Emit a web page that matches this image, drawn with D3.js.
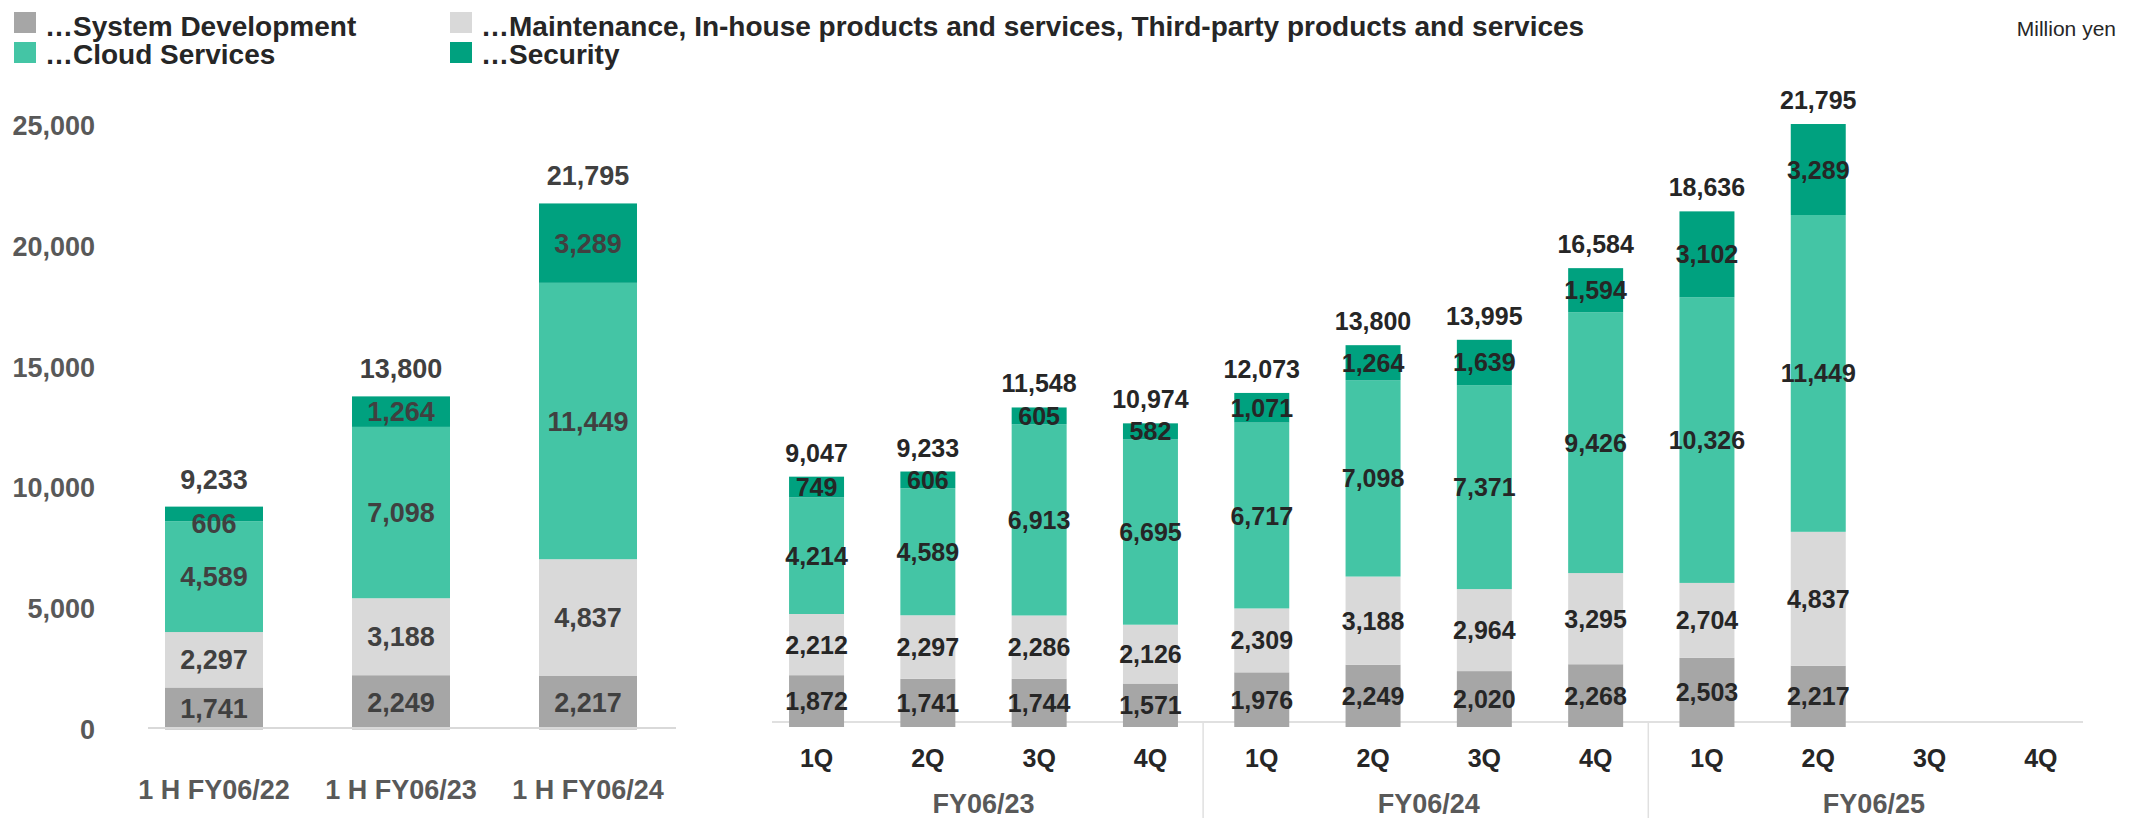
<!DOCTYPE html>
<html><head><meta charset="utf-8">
<script src="https://cdn.jsdelivr.net/npm/d3@7"></script>
<style>
html,body{margin:0;padding:0;background:#fff;}
svg{display:block;font-family:"Liberation Sans",Arial,Helvetica,sans-serif;}
</style></head><body>
<svg id="chart" width="2145" height="818"></svg>
<script>
// ---------- data ----------
const seriesNames = ["…System Development", "…Maintenance, In-house products and services, Third-party products and services", "…Cloud Services", "…Security"];
const seriesKeys = ["sys", "maint", "cloud", "sec"];
const seriesColors = ["#a6a6a6", "#d9d9d9", "#44c5a5", "#00a17f"];

const halfCategories = ["1 H FY06/22", "1 H FY06/23", "1 H FY06/24"];
const halfSysDev   = [1741, 2249, 2217];
const halfMaint    = [2297, 3188, 4837];
const halfCloud    = [4589, 7098, 11449];
const halfSecurity = [606, 1264, 3289];
const halfTotals   = [9233, 13800, 21795];

const fiscalYears = ["FY06/23", "FY06/24", "FY06/25"];
const quarters = ["1Q", "2Q", "3Q", "4Q"];
const qSysDev   = [1872, 1741, 1744, 1571, 1976, 2249, 2020, 2268, 2503, 2217, null, null];
const qMaint    = [2212, 2297, 2286, 2126, 2309, 3188, 2964, 3295, 2704, 4837, null, null];
const qCloud    = [4214, 4589, 6913, 6695, 6717, 7098, 7371, 9426, 10326, 11449, null, null];
const qSecurity = [749, 606, 605, 582, 1071, 1264, 1639, 1594, 3102, 3289, null, null];
const qTotals   = [9047, 9233, 11548, 10974, 12073, 13800, 13995, 16584, 18636, 21795, null, null];

const yTicks = [0, 5000, 10000, 15000, 20000, 25000];
const unitLabel = "Million yen";

// ---------- setup ----------
const svg = d3.select("#chart");
const fmt = d3.format(",");
const FONT_B = 700;

const halfRows = halfCategories.map((c, i) => ({key: c, sys: halfSysDev[i], maint: halfMaint[i], cloud: halfCloud[i], sec: halfSecurity[i], total: halfTotals[i]}));
const qKeys = fiscalYears.flatMap(fy => quarters.map(q => fy + "|" + q));
const qRows = qKeys.map((k, i) => ({key: k, sys: qSysDev[i], maint: qMaint[i], cloud: qCloud[i], sec: qSecurity[i], total: qTotals[i]}))
  .filter(r => r.total != null);

const stackGen = d3.stack().keys(seriesKeys);
const halfStack = stackGen(halfRows);
const qStack = stackGen(qRows);

// ---------- legend ----------
const legendPos = [
  {sx: 14, sy: 12, tx: 45, ty: 35.5},
  {sx: 450, sy: 12, tx: 481, ty: 35.5},
  {sx: 14, sy: 42, tx: 45, ty: 63.5},
  {sx: 450, sy: 42, tx: 481, ty: 63.5}
];
const lg = svg.append("g");
seriesNames.forEach((name, si) => {
  const p = legendPos[si];
  lg.append("rect").attr("x", p.sx).attr("y", p.sy).attr("width", 22).attr("height", 21).attr("fill", seriesColors[si]);
  lg.append("text").attr("x", p.tx).attr("y", p.ty).attr("font-size", 28).attr("font-weight", FONT_B)
    .attr("fill", "#262626").text(name);
});
svg.append("text").attr("x", 2116).attr("y", 36).attr("text-anchor", "end")
  .attr("font-size", 21).attr("fill", "#262626").text(unitLabel);

// ---------- left panel ----------
const xL = d3.scaleBand().domain(halfCategories).range([120.5, 681.5]).paddingInner(0.476).paddingOuter(0.238);
const yL = d3.scaleLinear().domain([0, 25000]).range([729.5, 126]);

const yAxis = svg.append("g").attr("transform", "translate(95,0)")
  .call(d3.axisLeft(yL).tickValues(yTicks).tickFormat(fmt).tickSize(0).tickPadding(0));
yAxis.select(".domain").remove();
yAxis.selectAll("text").attr("font-size", 27).attr("font-weight", FONT_B).attr("fill", "#595959")
  .attr("font-family", "Liberation Sans, Arial, sans-serif");

const leftG = svg.append("g");
leftG.selectAll("g.layer").data(halfStack).join("g").attr("class", "layer")
  .attr("fill", (d, i) => seriesColors[i])
  .selectAll("rect").data(d => d).join("rect")
  .attr("x", d => xL(d.data.key)).attr("width", xL.bandwidth())
  .attr("y", d => yL(d[1])).attr("height", d => yL(d[0]) - yL(d[1]));

svg.append("line").attr("x1", 148).attr("x2", 676).attr("y1", yL(0) - 1.5).attr("y2", yL(0) - 1.5)
  .attr("stroke", "#d9d9d9").attr("stroke-width", 2);

halfStack.forEach((layer, li) => {
  leftG.append("g").selectAll("text").data(layer).join("text")
    .attr("x", d => xL(d.data.key) + xL.bandwidth() / 2)
    .attr("y", d => (yL(d[0]) + yL(d[1])) / 2 + (yL(d[0]) - yL(d[1]) < 20 ? 9 : 0))
    .attr("dy", "0.36em").attr("text-anchor", "middle")
    .attr("font-size", 27).attr("font-weight", FONT_B).attr("fill", "#404040")
    .text(d => fmt(d.data[seriesKeys[li]]));
});
leftG.append("g").selectAll("text").data(halfRows).join("text")
  .attr("x", d => xL(d.key) + xL.bandwidth() / 2).attr("y", d => yL(d.total) - 18)
  .attr("text-anchor", "middle").attr("font-size", 27).attr("font-weight", FONT_B).attr("fill", "#404040")
  .text(d => fmt(d.total));

const xAxisL = svg.append("g").attr("transform", "translate(0,728)")
  .call(d3.axisBottom(xL).tickSize(0).tickPadding(52));
xAxisL.select(".domain").remove();
xAxisL.selectAll("text").attr("font-size", 27).attr("font-weight", FONT_B).attr("fill", "#595959")
  .attr("font-family", "Liberation Sans, Arial, sans-serif");

// ---------- right panel ----------
const xR = d3.scaleBand().domain(qKeys).range([760.9, 2096.5]).paddingInner(0.506).paddingOuter(0.253);
const yR = d3.scaleLinear().domain([0, 25000]).range([727, 35.25]);

svg.append("line").attr("x1", 772).attr("x2", 2083).attr("y1", 722).attr("y2", 722)
  .attr("stroke", "#e0e0e0").attr("stroke-width", 2);

const sepIdx = [4, 8];
sepIdx.forEach(i => {
  const xs = (xR(qKeys[i - 1]) + xR.bandwidth() + xR(qKeys[i])) / 2 - 3;
  svg.append("line").attr("x1", xs).attr("x2", xs).attr("y1", 722).attr("y2", 818)
    .attr("stroke", "#e0e0e0").attr("stroke-width", 1.5);
});

const rightG = svg.append("g");
rightG.selectAll("g.layer").data(qStack).join("g").attr("class", "layer")
  .attr("fill", (d, i) => seriesColors[i])
  .selectAll("rect").data(d => d).join("rect")
  .attr("x", d => xR(d.data.key)).attr("width", xR.bandwidth())
  .attr("y", d => yR(d[1])).attr("height", d => yR(d[0]) - yR(d[1]));

qStack.forEach((layer, li) => {
  rightG.append("g").selectAll("text").data(layer).join("text")
    .attr("x", d => xR(d.data.key) + xR.bandwidth() / 2)
    .attr("y", d => (yR(d[0]) + yR(d[1])) / 2)
    .attr("dy", "0.36em").attr("text-anchor", "middle")
    .attr("font-size", 25).attr("font-weight", FONT_B).attr("fill", "#262626")
    .text(d => fmt(d.data[seriesKeys[li]]));
});
rightG.append("g").selectAll("text").data(qRows).join("text")
  .attr("x", d => xR(d.key) + xR.bandwidth() / 2).attr("y", d => yR(d.total) - 15)
  .attr("text-anchor", "middle").attr("font-size", 25).attr("font-weight", FONT_B).attr("fill", "#262626")
  .text(d => fmt(d.total));

const xAxisR = svg.append("g").attr("transform", "translate(0,722)")
  .call(d3.axisBottom(xR).tickSize(0).tickPadding(27).tickFormat(k => k.split("|")[1]));
xAxisR.select(".domain").remove();
xAxisR.selectAll("text").attr("font-size", 25).attr("font-weight", FONT_B).attr("fill", "#262626")
  .attr("font-family", "Liberation Sans, Arial, sans-serif");

svg.append("g").selectAll("text").data(fiscalYears).join("text")
  .attr("x", fy => {
    const ks = qKeys.filter(k => k.startsWith(fy));
    return (xR(ks[0]) + xR(ks[ks.length - 1]) + xR.bandwidth()) / 2;
  })
  .attr("y", 813).attr("text-anchor", "middle")
  .attr("font-size", 27).attr("font-weight", FONT_B).attr("fill", "#595959")
  .text(fy => fy);
</script>
</body></html>
